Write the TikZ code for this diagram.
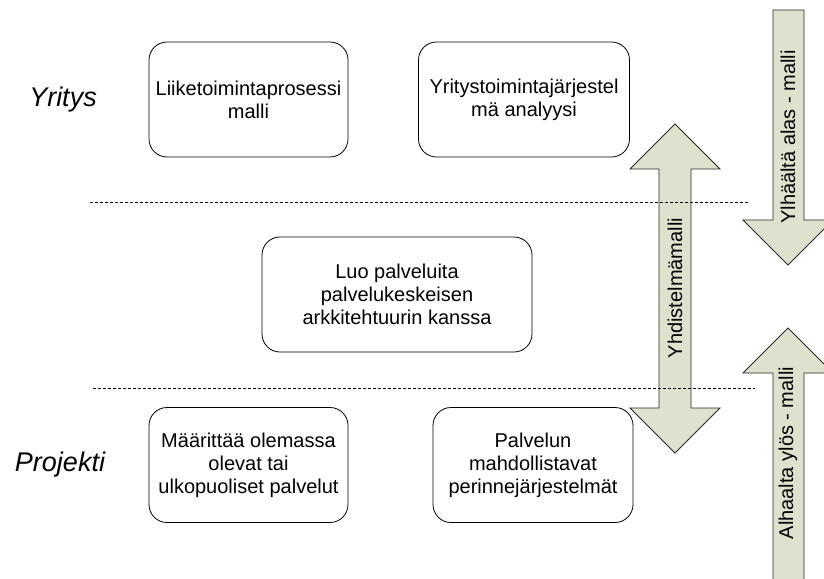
\documentclass[tikz,border=0pt]{standalone}
\usepackage{fontspec}
\setmainfont{Liberation Sans}
\definecolor{arrowfill}{RGB}{221,225,205}
\definecolor{arrowline}{RGB}{40,40,40}
\begin{document}
\begin{tikzpicture}[x=1pt,y=-1pt,
  box/.style={draw=black, line width=0.8pt, rounded corners=18pt, align=center,
    inner sep=0pt, minimum height=115pt, font=\fontsize{20}{23}\selectfont},
  levellabel/.style={font=\fontsize{27}{30}\selectfont\itshape},
  blockarrow/.style={fill=arrowfill, draw=arrowline, line width=0.8pt, line join=miter},
  arrowtext/.style={rotate=90, font=\fontsize{20}{23}\selectfont, inner sep=0pt},
  divider/.style={draw=black, line width=0.8pt, dash pattern=on 3pt off 2pt}]
\useasboundingbox (0,0) rectangle (824,578);
\clip (0,0) rectangle (824,578);

% block arrows
\draw[blockarrow] (659,169) -- (630,169) -- (675,124) -- (720,169) -- (691,169)
  -- (691,408) -- (720,408) -- (675,453) -- (630,408) -- (659,408) -- cycle;
\draw[blockarrow] (773,10) -- (804,10) -- (804,220) -- (833,220) -- (788,265)
  -- (743,220) -- (773,220) -- cycle;
\draw[blockarrow] (773,600) -- (773,373) -- (743,373) -- (788,328) -- (833,373)
  -- (804,373) -- (804,600) -- cycle;

\node[arrowtext] (combined) at (675,288) {Yhdistelmämalli};
\node[arrowtext] (topdown) at (788,137) {Ylhäältä alas - malli};
\node[arrowtext] (bottomup) at (788,453) {Alhaalta ylös - malli};

% level labels
\node[levellabel] (yritys) at (63,100) {Yritys};
\node[levellabel] (projekti) at (60,465) {Projekti};

% boxes
\node[box, minimum width=199pt] (bpm) at (248.5,99.5) {Liiketoimintaprosessi\\malli};
\node[box, minimum width=211pt] (esa) at (524,99.5) {Yritystoimintajärjestel\\mä analyysi};
\node[box, minimum width=270pt] (soa) at (397,294.5) {Luo palveluita\\palvelukeskeisen\\arkkitehtuurin kanssa};
\node[box, minimum width=199pt] (ext) at (248.5,465) {Määrittää olemassa\\olevat tai\\ulkopuoliset palvelut};
\node[box, minimum width=200pt] (leg) at (533,465) {Palvelun\\mahdollistavat\\perinnejärjestelmät};

% dashed level dividers
\coordinate (d1a) at (90,202);
\coordinate (d1b) at (750,202);
\coordinate (d2a) at (93,388);
\coordinate (d2b) at (755,388);
\draw[divider] (d1a) -- (d1b);
\draw[divider] (d2a) -- (d2b);
\end{tikzpicture}
\end{document}
